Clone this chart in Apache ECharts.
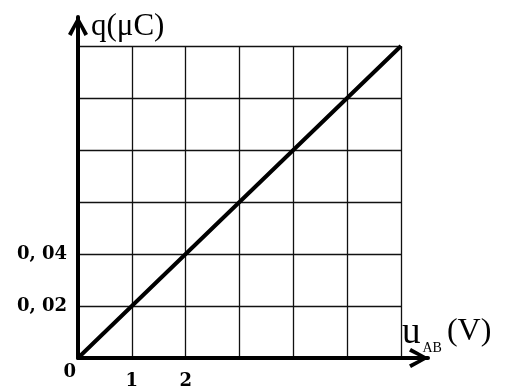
<!DOCTYPE html>
<html>
<head>
<meta charset="utf-8">
<script src="https://cdn.jsdelivr.net/npm/echarts@6/dist/echarts.min.js"></script>
<style>html,body{margin:0;padding:0;background:#fff}#c{width:506px;height:388px}</style>
</head>
<body>
<div id="c"></div>
<script>
// Data
const uValues = [0, 1, 2, 3, 4, 5, 6];
const qValues = [0, 0.02, 0.04, 0.06, 0.08, 0.10, 0.12];
const xLabelValues = [1, 2];
const xLabelTexts = ['1', '2'];
const yLabelValues = [0.02, 0.04];
const yLabelTexts = ['0, 02', '0, 04'];
const originLabel = '0';
const yName = 'q(μC)';
const xNameMain = 'u';
const xNameSub = 'AB';
const xNameUnit = '(V)';

const chart = echarts.init(document.getElementById('c'), null, {renderer: 'canvas'});
const near = (a, b) => Math.abs(a - b) < 1e-9;
const arrowPath = 'path://M10,0 L20,18 L16.5,20 L10,7 L3.5,20 L0,18 Z';
const labelFont = {fontFamily: 'DejaVu Serif', fontWeight: 'bold', fontSize: 18, color: '#000'};

chart.setOption({
  animation: false,
  grid: [
    {left: 78, right: 105, top: 46, bottom: 30, containLabel: false, outerBoundsMode: 'none'},
    {left: 78, right: 78, top: 17, bottom: 30, containLabel: false, outerBoundsMode: 'none'}
  ],
  xAxis: [
    {
      gridIndex: 0, type: 'value', min: 0, max: 6, interval: 1,
      axisLine: {show: false}, axisTick: {show: false},
      splitLine: {show: true, lineStyle: {color: '#111', width: 1.3}},
      axisLabel: Object.assign({
        margin: 14,
        formatter: v => { const i = xLabelValues.findIndex(x => near(x, v)); return i >= 0 ? xLabelTexts[i] : ''; }
      }, labelFont),
      name: '{u|' + xNameMain + '}{s|' + xNameSub + '}{p|' + xNameUnit + '}',
      nameLocation: 'end', nameGap: 1,
      nameTextStyle: {
        align: 'left', verticalAlign: 'bottom',
        rich: {
          u: {fontFamily: 'Liberation Serif', fontSize: 37, lineHeight: 37, verticalAlign: 'bottom', padding: [0, 0, 6, 0], color: '#000'},
          s: {fontFamily: 'Liberation Serif', fontSize: 14, lineHeight: 14, verticalAlign: 'bottom', padding: [0, 5, 3, 2], color: '#000'},
          p: {fontFamily: 'Liberation Serif', fontSize: 32, lineHeight: 32, verticalAlign: 'bottom', padding: [0, 0, 10, 0], color: '#000'}
        }
      }
    },
    {
      gridIndex: 1, type: 'value', min: 0, max: 1,
      axisLine: {show: true, onZero: false, symbol: ['none', arrowPath], symbolSize: [20, 20], symbolOffset: [0, -9], lineStyle: {color: '#000', width: 4}},
      axisTick: {show: false}, axisLabel: {show: false}, splitLine: {show: false}
    }
  ],
  yAxis: [
    {
      gridIndex: 0, type: 'value', min: 0, max: 0.12, interval: 0.02, position: 'left',
      axisLine: {show: false}, axisTick: {show: false},
      splitLine: {show: true, lineStyle: {color: '#111', width: 1.3}},
      axisLabel: Object.assign({
        margin: 11,
        formatter: v => { const i = yLabelValues.findIndex(y => near(y, v)); return i >= 0 ? yLabelTexts[i] : ''; }
      }, labelFont),
      name: yName, nameLocation: 'end', nameGap: 19,
      nameTextStyle: {fontFamily: 'Liberation Serif', fontSize: 31, color: '#000', align: 'left', verticalAlign: 'middle', padding: [0, 0, 0, 13]}
    },
    {
      gridIndex: 0, type: 'value', min: 0, max: 0.12, interval: 0.02, position: 'left', offset: 0,
      axisLine: {show: false}, axisTick: {show: false}, splitLine: {show: false},
      axisLabel: Object.assign({
        margin: 2, verticalAlign: 'top', padding: [5, 0, 0, 0],
        formatter: v => near(v, 0) ? originLabel : ''
      }, labelFont)
    },
    {
      gridIndex: 1, type: 'value', min: 0, max: 1,
      axisLine: {show: true, onZero: false, symbol: ['none', arrowPath], symbolSize: [20, 20], symbolOffset: [0, -9], lineStyle: {color: '#000', width: 4}},
      axisTick: {show: false}, axisLabel: {show: false}, splitLine: {show: false}
    }
  ],
  series: [
    {
      type: 'line', xAxisIndex: 0, yAxisIndex: 0,
      data: uValues.map((u, i) => [u, qValues[i]]),
      showSymbol: false, symbol: 'none',
      lineStyle: {color: '#000', width: 4}
    }
  ]
});
</script>
</body>
</html>
